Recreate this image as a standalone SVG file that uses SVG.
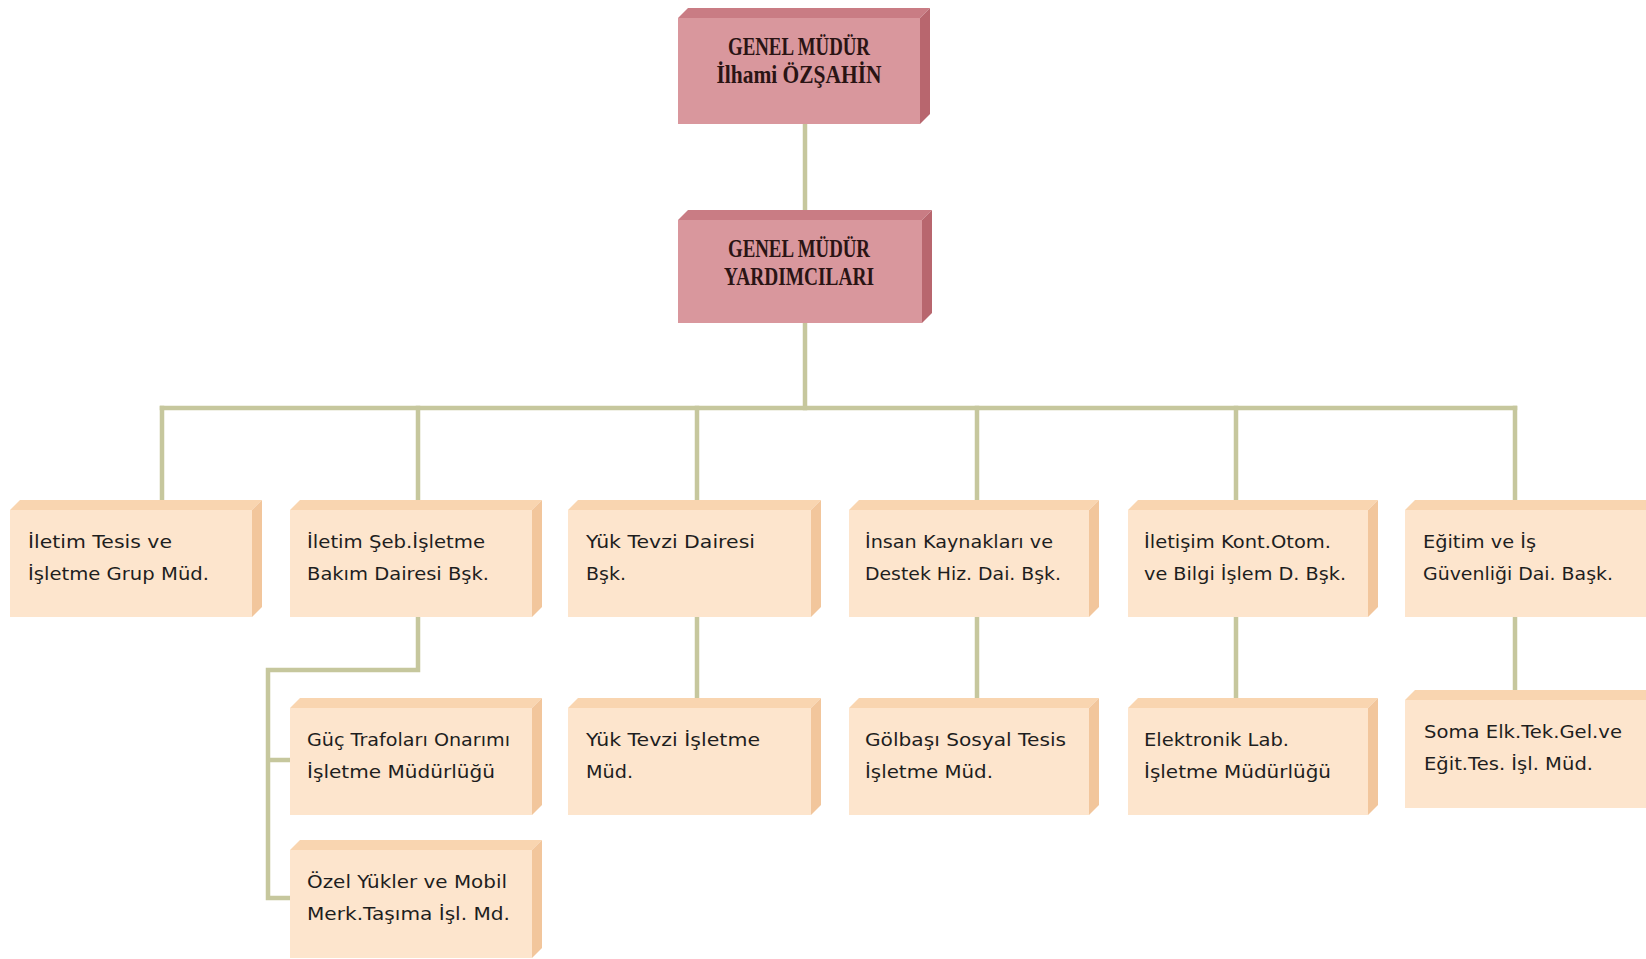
<svg xmlns="http://www.w3.org/2000/svg" width="1646" height="959" viewBox="0 0 1646 959">
<style>
.bg{fill:#ffffff}
.conn{fill:none;stroke:#c6c79d;stroke-width:4.5;stroke-linecap:square}
.rf{fill:#d9979d}
.rt{fill:#c97c84}
.rs{fill:#b8666e}
.pf{fill:#fde5cd}
.pt{fill:#f9d5b0}
.ps{fill:#f2c69c}
.t1{font-family:"Liberation Serif","Times New Roman",serif;font-weight:bold;font-size:25px;fill:#2a1414;text-anchor:middle}
.t2{font-family:"DejaVu Sans","Liberation Sans",sans-serif;font-size:17px;fill:#1e1e1e}
</style>
<rect class="bg" x="0" y="0" width="1646" height="959"/>
<g id="connectors">
<path class="conn" d="M805 124 V210"/>
<path class="conn" d="M805 323 V408"/>
<path class="conn" d="M162 408 H1515"/>
<path class="conn" d="M162 408 V500 M418 408 V500 M697 408 V500 M977 408 V500 M1236 408 V500 M1515 408 V500"/>
<path class="conn" d="M418 617 V670 H268 V898 H290 M268 760 H290"/>
<path class="conn" d="M697 617 V698 M977 617 V698 M1236 617 V698 M1515 617 V690"/>
</g>
<g id="gm">
<polygon class="rt" points="678,18 688,8 930,8 920,18"/>
<polygon class="rs" points="920,18 930,8 930,114 920,124"/>
<rect class="rf" x="678" y="18" width="242" height="106"/>
<text class="t1" x="799" y="55" textLength="142" lengthAdjust="spacingAndGlyphs">GENEL MÜDÜR</text>
<text class="t1" x="799" y="83" textLength="165" lengthAdjust="spacingAndGlyphs">İlhami ÖZŞAHİN</text>
</g>
<g id="gmy">
<polygon class="rt" points="678,220 688,210 932,210 922,220"/>
<polygon class="rs" points="922,220 932,210 932,313 922,323"/>
<rect class="rf" x="678" y="220" width="244" height="103"/>
<text class="t1" x="799" y="257" textLength="142" lengthAdjust="spacingAndGlyphs">GENEL MÜDÜR</text>
<text class="t1" x="799" y="285" textLength="150" lengthAdjust="spacingAndGlyphs">YARDIMCILARI</text>
</g>
<g id="n1">
<polygon class="pt" points="10,510 20,500 262,500 252,510"/>
<polygon class="ps" points="252,510 262,500 262,607 252,617"/>
<rect class="pf" x="10" y="510" width="242" height="107"/>
<text class="t2" x="28" y="548" textLength="144" lengthAdjust="spacingAndGlyphs">İletim Tesis ve</text>
<text class="t2" x="28" y="580" textLength="181" lengthAdjust="spacingAndGlyphs">İşletme Grup Müd.</text>
</g>
<g id="n2">
<polygon class="pt" points="290,510 300,500 542,500 532,510"/>
<polygon class="ps" points="532,510 542,500 542,607 532,617"/>
<rect class="pf" x="290" y="510" width="242" height="107"/>
<text class="t2" x="307" y="548" textLength="178" lengthAdjust="spacingAndGlyphs">İletim Şeb.İşletme</text>
<text class="t2" x="307" y="580" textLength="182" lengthAdjust="spacingAndGlyphs">Bakım Dairesi Bşk.</text>
</g>
<g id="n3">
<polygon class="pt" points="568,510 578,500 821,500 811,510"/>
<polygon class="ps" points="811,510 821,500 821,607 811,617"/>
<rect class="pf" x="568" y="510" width="243" height="107"/>
<text class="t2" x="586" y="548" textLength="169" lengthAdjust="spacingAndGlyphs">Yük Tevzi Dairesi</text>
<text class="t2" x="586" y="580" textLength="40" lengthAdjust="spacingAndGlyphs">Bşk.</text>
</g>
<g id="n4">
<polygon class="pt" points="849,510 859,500 1099,500 1089,510"/>
<polygon class="ps" points="1089,510 1099,500 1099,607 1089,617"/>
<rect class="pf" x="849" y="510" width="240" height="107"/>
<text class="t2" x="865" y="548" textLength="188" lengthAdjust="spacingAndGlyphs">İnsan Kaynakları ve</text>
<text class="t2" x="865" y="580" textLength="196" lengthAdjust="spacingAndGlyphs">Destek Hiz. Dai. Bşk.</text>
</g>
<g id="n5">
<polygon class="pt" points="1128,510 1138,500 1378,500 1368,510"/>
<polygon class="ps" points="1368,510 1378,500 1378,607 1368,617"/>
<rect class="pf" x="1128" y="510" width="240" height="107"/>
<text class="t2" x="1144" y="548" textLength="187" lengthAdjust="spacingAndGlyphs">İletişim Kont.Otom.</text>
<text class="t2" x="1144" y="580" textLength="202" lengthAdjust="spacingAndGlyphs">ve Bilgi İşlem D. Bşk.</text>
</g>
<g id="n6">
<polygon class="pt" points="1405,510 1415,500 1657,500 1647,510"/>
<rect class="pf" x="1405" y="510" width="242" height="107"/>
<text class="t2" x="1423" y="548" textLength="113" lengthAdjust="spacingAndGlyphs">Eğitim ve İş</text>
<text class="t2" x="1423" y="580" textLength="190" lengthAdjust="spacingAndGlyphs">Güvenliği Dai. Başk.</text>
</g>
<g id="n7">
<polygon class="pt" points="290,708 300,698 542,698 532,708"/>
<polygon class="ps" points="532,708 542,698 542,805 532,815"/>
<rect class="pf" x="290" y="708" width="242" height="107"/>
<text class="t2" x="307" y="746" textLength="203" lengthAdjust="spacingAndGlyphs">Güç Trafoları Onarımı</text>
<text class="t2" x="307" y="778" textLength="188" lengthAdjust="spacingAndGlyphs">İşletme Müdürlüğü</text>
</g>
<g id="n8">
<polygon class="pt" points="568,708 578,698 821,698 811,708"/>
<polygon class="ps" points="811,708 821,698 821,805 811,815"/>
<rect class="pf" x="568" y="708" width="243" height="107"/>
<text class="t2" x="586" y="746" textLength="174" lengthAdjust="spacingAndGlyphs">Yük Tevzi İşletme</text>
<text class="t2" x="586" y="778" textLength="47" lengthAdjust="spacingAndGlyphs">Müd.</text>
</g>
<g id="n9">
<polygon class="pt" points="849,708 859,698 1099,698 1089,708"/>
<polygon class="ps" points="1089,708 1099,698 1099,805 1089,815"/>
<rect class="pf" x="849" y="708" width="240" height="107"/>
<text class="t2" x="865" y="746" textLength="201" lengthAdjust="spacingAndGlyphs">Gölbaşı Sosyal Tesis</text>
<text class="t2" x="865" y="778" textLength="128" lengthAdjust="spacingAndGlyphs">İşletme Müd.</text>
</g>
<g id="n10">
<polygon class="pt" points="1128,708 1138,698 1378,698 1368,708"/>
<polygon class="ps" points="1368,708 1378,698 1378,805 1368,815"/>
<rect class="pf" x="1128" y="708" width="240" height="107"/>
<text class="t2" x="1144" y="746" textLength="145" lengthAdjust="spacingAndGlyphs">Elektronik Lab.</text>
<text class="t2" x="1144" y="778" textLength="187" lengthAdjust="spacingAndGlyphs">İşletme Müdürlüğü</text>
</g>
<g id="n11">
<polygon class="pt" points="1405,700 1415,690 1657,690 1647,700"/>
<rect class="pf" x="1405" y="700" width="242" height="108"/>
<text class="t2" x="1424" y="738" textLength="198" lengthAdjust="spacingAndGlyphs">Soma Elk.Tek.Gel.ve</text>
<text class="t2" x="1424" y="770" textLength="169" lengthAdjust="spacingAndGlyphs">Eğit.Tes. İşl. Müd.</text>
</g>
<g id="n12">
<polygon class="pt" points="290,850 300,840 542,840 532,850"/>
<polygon class="ps" points="532,850 542,840 542,948 532,958"/>
<rect class="pf" x="290" y="850" width="242" height="108"/>
<text class="t2" x="307" y="888" textLength="200" lengthAdjust="spacingAndGlyphs">Özel Yükler ve Mobil</text>
<text class="t2" x="307" y="920" textLength="203" lengthAdjust="spacingAndGlyphs">Merk.Taşıma İşl. Md.</text>
</g>
</svg>
